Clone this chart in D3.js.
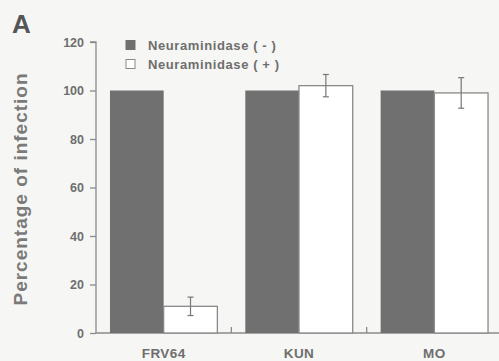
<!DOCTYPE html>
<html>
<head>
<meta charset="utf-8">
<script src="https://cdn.jsdelivr.net/npm/d3@7/dist/d3.min.js"></script>
<style>
  html, body { margin: 0; padding: 0; background: #f6f6f4; }
  svg { display: block; font-family: "Liberation Sans", Arial, sans-serif; }
</style>
</head>
<body>
<svg id="chart" width="499" height="361"></svg>
<script>
const categories = ['FRV64', 'KUN', 'MO'];
const seriesNames = ['Neuraminidase ( - )', 'Neuraminidase ( + )'];
const untreated = [100, 100, 100];
const treated = [11, 102, 99];
const treatedErr = [3.8, 4.6, 6.3];
const yTicks = [0, 20, 40, 60, 80, 100, 120];

const svg = d3.select('#chart');
const margin = { left: 96, right: -3 };
const width = 499;

const x = d3.scaleBand().domain(categories).range([margin.left, width - margin.right]);
const xSub = d3.scaleBand().domain([0, 1]).range([0, x.bandwidth()]).paddingOuter(0.26);
const y = d3.scaleLinear().domain([0, 120]).range([333, 42]);

const fg = '#6e6e6e';
const axisColor = '#8a8a8a';

// y axis
const yAxis = svg.append('g')
  .attr('transform', `translate(${margin.left},0)`)
  .call(d3.axisLeft(y).tickValues(yTicks).tickSize(6).tickPadding(6));
yAxis.select('.domain').attr('stroke', axisColor).attr('stroke-width', 1.3)
  .attr('d', `M-6,${y(120)}H0V${y(0)}`);
yAxis.selectAll('.tick line').attr('stroke', axisColor).attr('stroke-width', 1.3);
yAxis.selectAll('.tick text').attr('fill', fg).attr('font-size', 12.5).attr('font-weight', 'bold');

// x axis
const xAxis = svg.append('g')
  .attr('transform', `translate(0,${y(0)})`);
xAxis.append('line').attr('x1', margin.left).attr('x2', width).attr('y1', 0).attr('y2', 0)
  .attr('stroke', axisColor).attr('stroke-width', 1.3);
xAxis.selectAll('line.sep')
  .data(categories.slice(1))
  .join('line')
  .attr('class', 'sep')
  .attr('x1', d => x(d)).attr('x2', d => x(d))
  .attr('y1', 0).attr('y2', -6)
  .attr('stroke', axisColor).attr('stroke-width', 1.3);
xAxis.selectAll('text')
  .data(categories)
  .join('text')
  .attr('x', d => x(d) + x.bandwidth() / 2)
  .attr('y', 25)
  .attr('text-anchor', 'middle')
  .attr('fill', fg)
  .attr('font-size', 13.5)
  .attr('font-weight', 'bold')
  .attr('letter-spacing', 0.4)
  .text(d => d);

// bars
const groups = svg.append('g').selectAll('g')
  .data(categories)
  .join('g')
  .attr('transform', d => `translate(${x(d)},0)`);

groups.append('rect')
  .attr('x', xSub(0))
  .attr('width', xSub.bandwidth())
  .attr('y', (d, i) => y(untreated[i]))
  .attr('height', (d, i) => y(0) - y(untreated[i]))
  .attr('fill', '#707070');

groups.append('rect')
  .attr('x', xSub(1))
  .attr('width', xSub.bandwidth())
  .attr('y', (d, i) => y(treated[i]))
  .attr('height', (d, i) => y(0) - y(treated[i]))
  .attr('fill', '#ffffff')
  .attr('stroke', axisColor)
  .attr('stroke-width', 1.3);

// error bars
const cx = xSub(1) + xSub.bandwidth() / 2;
const err = groups.append('g')
  .attr('stroke', '#777')
  .attr('stroke-width', 1.2);
err.append('line')
  .attr('x1', cx).attr('x2', cx)
  .attr('y1', (d, i) => y(treated[i] + treatedErr[i]))
  .attr('y2', (d, i) => y(treated[i] - treatedErr[i]));
[1, -1].forEach(s => {
  err.append('line')
    .attr('x1', cx - 3).attr('x2', cx + 3)
    .attr('y1', (d, i) => y(treated[i] + s * treatedErr[i]))
    .attr('y2', (d, i) => y(treated[i] + s * treatedErr[i]));
});

// legend
const legend = svg.append('g').attr('transform', 'translate(126,45)');
seriesNames.forEach((name, i) => {
  const row = legend.append('g').attr('transform', `translate(0,${i * 19})`);
  row.append('rect')
    .attr('x', 0).attr('y', -4.5).attr('width', 9).attr('height', 9)
    .attr('fill', i === 0 ? '#707070' : '#ffffff')
    .attr('stroke', i === 0 ? '#707070' : '#888')
    .attr('stroke-width', 1);
  row.append('text')
    .attr('x', 22).attr('y', 4.5)
    .attr('fill', fg)
    .attr('font-size', 13)
    .attr('font-weight', 'bold')
    .attr('letter-spacing', 0.6)
    .text(name);
});

// y label
svg.append('text')
  .attr('transform', 'translate(27,189) rotate(-90)')
  .attr('text-anchor', 'middle')
  .attr('fill', '#7a7a7a')
  .attr('font-size', 19)
  .attr('font-weight', 'bold')
  .attr('letter-spacing', 1)
  .text('Percentage of infection');

// panel letter
svg.append('text')
  .attr('x', 12).attr('y', 33)
  .attr('fill', '#555')
  .attr('font-size', 26)
  .attr('font-weight', 'bold')
  .text('A');
</script>
</body>
</html>
